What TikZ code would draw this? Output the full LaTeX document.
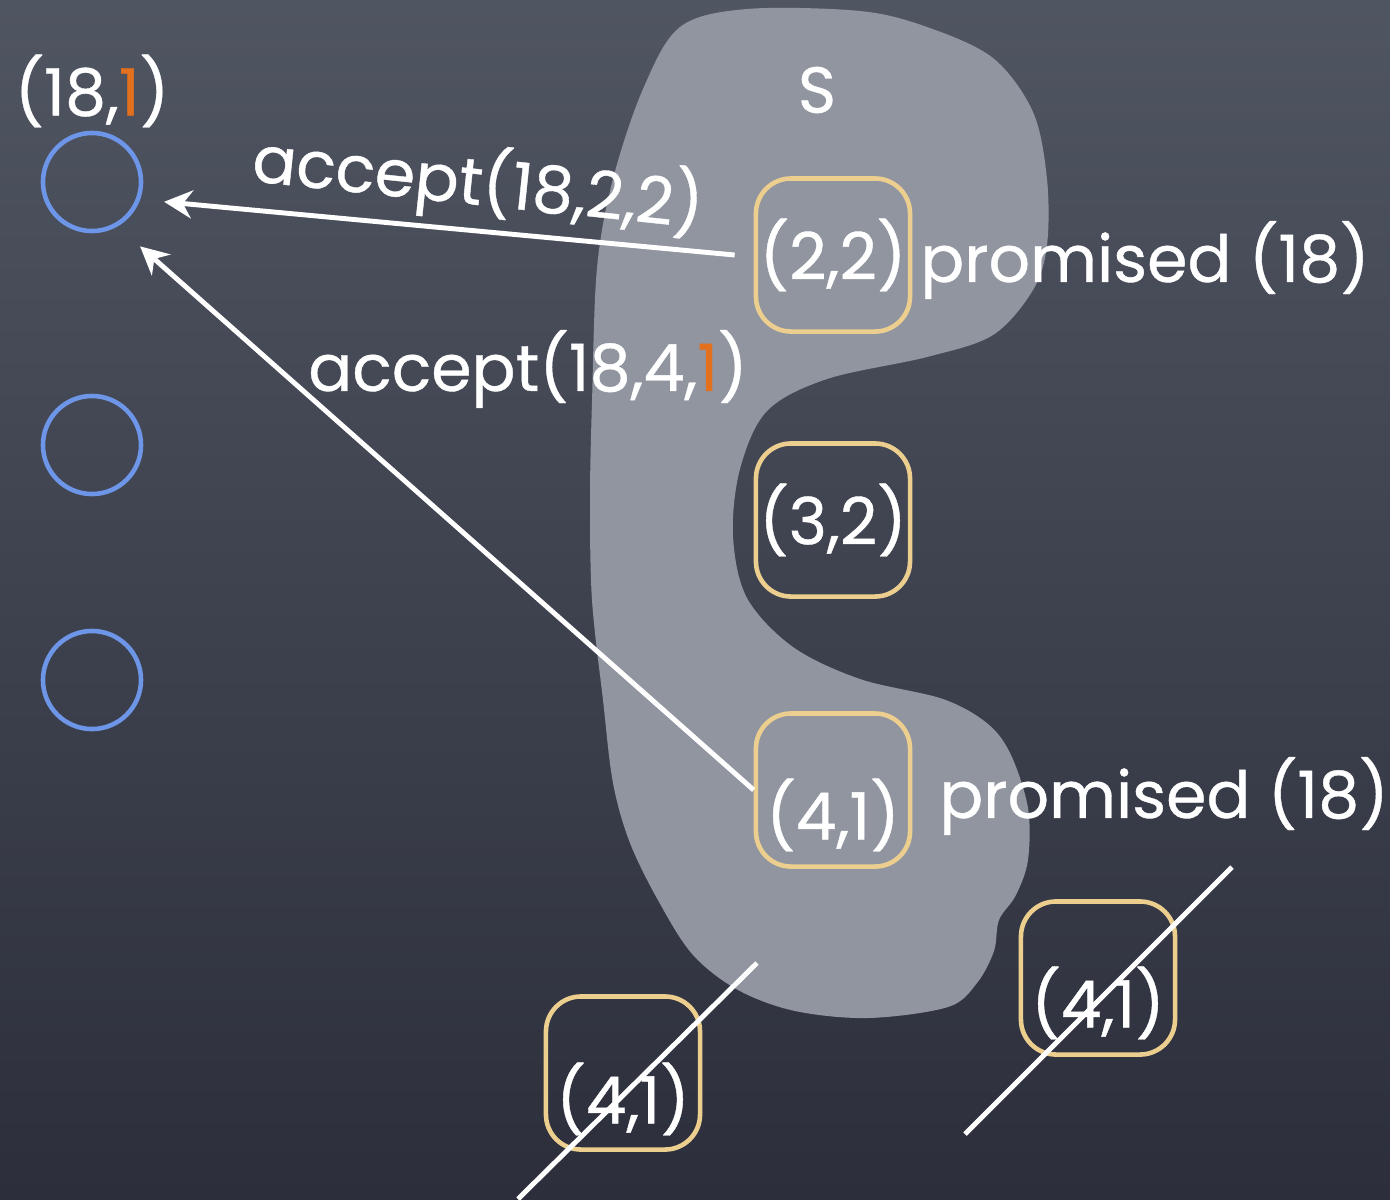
\documentclass[tikz,border=0pt]{standalone}
\usepackage{fontspec}
\setmainfont{Poppins}[FakeBold=0.6]
\usetikzlibrary{arrows.meta}
\tikzset{>={Stealth[length=2.8mm,width=2.8mm]}}
\definecolor{boardtop}{RGB}{80,85,98}
\definecolor{boardbottom}{RGB}{44,47,59}
\definecolor{blobgrey}{RGB}{145,149,160}
\definecolor{peerblue}{RGB}{110,150,232}
\definecolor{ballottan}{RGB}{236,207,143}
\definecolor{acorange}{RGB}{226,112,30}

\begin{document}
\begin{tikzpicture}[x=0.01cm, y=-0.01cm, font=\fontsize{18.5}{22}\selectfont, text=white,
  peer/.style={circle, draw=peerblue, line width=1.3pt, minimum size=0.98cm, inner sep=0pt},
  ballot/.style={draw=ballottan, line width=1.3pt, rounded corners=0.35cm, minimum width=1.54cm, minimum height=1.53cm, inner sep=0pt},
  msg/.style={->, draw=white, line width=1.4pt},
  cut/.style={draw=white, line width=1.4pt}]
  \useasboundingbox (0,0) rectangle (1390,1199);
  \shade[top color=boardtop, bottom color=boardbottom] (0,0) rectangle (1390,1199);
  \fill[blobgrey] plot[smooth cycle, tension=0.55] coordinates {
    (747,9) (860,11) (927,27) (993,58) (1033,112) (1047,179) (1047,245) (1033,290)
    (993,335) (927,357) (827,379) (767,411) (740,469) (733,536) (747,598) (793,647)
    (860,679) (943,699) (988,724) (1011,755) (1028,808) (1028,860) (1016,895) (999,920)
    (994,951) (977,983) (948,1007) (869,1018) (795,1011) (738,990) (693,955) (659,902)
    (630,843) (613,783) (603,700) (592,600) (590,500) (592,402) (597,268) (613,179)
    (643,89) (680,27)};

  \node (s) at (817,90) {S};
  \node (p1) at (92,182) [peer] {};
  \node (p2) at (92,445) [peer] {};
  \node (p3) at (92,680) [peer] {};
  \node (p1lbl) at (92,91) {(18,\textcolor{acorange}{1})};

  \node (b22) at (833,255) [ballot] {(2,2)};
  \node (b32) at (833,520) [ballot] {(3,2)};
  \node (b41) at (833,790) [ballot, label={[yshift=-0.25cm]center:(4,1)}] {};
  \node (b41l) at (623,1073) [ballot, label={[yshift=-0.26cm]center:(4,1)}] {};
  \node (b41r) at (1098,978) [ballot, label={[yshift=-0.25cm]center:(4,1)}] {};

  \node (pr22) at (1145,260) {promised (18)};
  \node (pr41) at (1164,796) {promised (18)};

  \draw[msg, shorten >=0.24cm] ([xshift=-0.19cm]b22.west) -- (p1.-20);
  \draw[msg, shorten >=0.3cm] (b41.west) -- (p1.-60);
  \node (acc22) at (478,183) [rotate=-6] {accept(18,2,2)};
  \node (acc41) at (528,369) {accept(18,4,\textcolor{acorange}{1})};

  \coordinate (cutla) at (757,963);
  \coordinate (cutlb) at (518,1199);
  \coordinate (cutra) at (1232,867);
  \coordinate (cutrb) at (965,1134);
  \draw[cut] (cutla) -- (cutlb);
  \draw[cut] (cutra) -- (cutrb);
\end{tikzpicture}
\end{document}
